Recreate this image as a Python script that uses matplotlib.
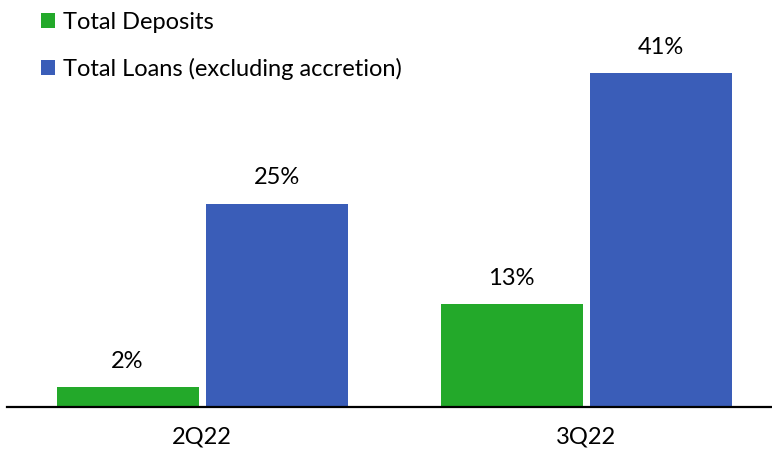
import numpy as np
import matplotlib.pyplot as plt

plt.rcParams['font.family'] = ['Lato', 'DejaVu Sans']

quarters = ['2Q22', '3Q22']
deposits = [2.4, 12.6]
loans = [25, 41]
green = '#23A92A'
blue = '#3A5DB8'

fig = plt.figure(figsize=(7.72, 4.49), dpi=100)
ax = fig.add_axes([7 / 772, 42 / 449, 765 / 772, 407 / 449])

x = np.arange(len(quarters))
w = 0.37
off = 0.194
b1 = ax.bar(x - off, deposits, w, color=green, label='Total Deposits')
b2 = ax.bar(x + off, loans, w, color=blue, label='Total Loans (excluding accretion)')

# labels on top of bars
for bars in (b1, b2):
    for b in bars:
        ax.annotate(f'{b.get_height():.0f}%', (b.get_x() + b.get_width() / 2, b.get_height()),
                    xytext=(0, 11), textcoords='offset points', ha='center', va='bottom',
                    fontsize=17)

ax.set_xlim(-0.508, 1.484)
ax.set_ylim(0, 50)
ax.set_xticks(x)
ax.set_xticklabels(quarters, fontsize=17)
ax.tick_params(axis='x', length=0, pad=14)
ax.set_yticks([])
for s in ['top', 'right', 'left']:
    ax.spines[s].set_visible(False)
ax.spines['bottom'].set_linewidth(1.6)
ax.spines['bottom'].set_color('black')

fig.legend(handles=[b1, b2], loc='upper left', bbox_to_anchor=(41 / 772, 1 - 12 / 449),
           frameon=False, fontsize=17, handlelength=0.6, handleheight=0.6,
           handletextpad=0.34, labelspacing=1.05, borderpad=0, borderaxespad=0)

plt.savefig('out.png', dpi=100)
